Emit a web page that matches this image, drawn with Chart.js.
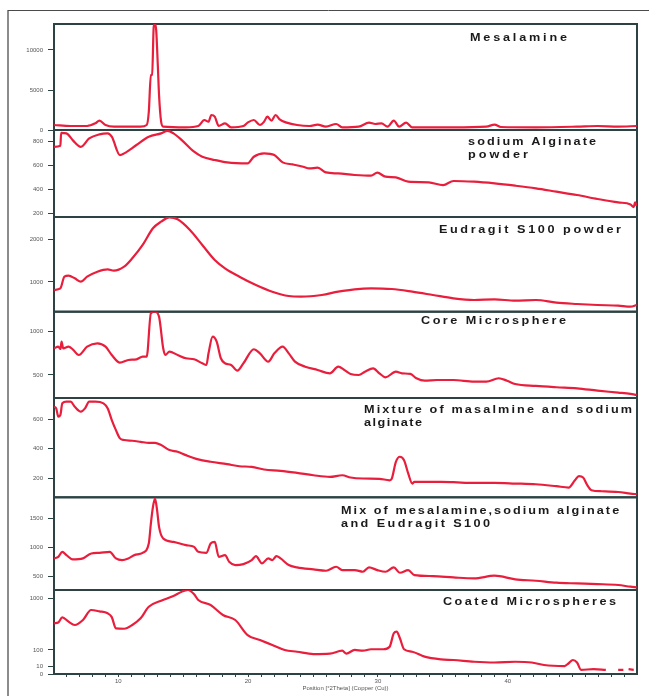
<!DOCTYPE html>
<html>
<head>
<meta charset="utf-8">
<title>XRD patterns</title>
<script src="https://cdn.jsdelivr.net/npm/chart.js@4.4.1/dist/chart.umd.min.js"></script>
<style>
  html, body { margin: 0; padding: 0; background: #fff; }
  #wrap { width: 649px; height: 696px; }
</style>
</head>
<body>
<div id="wrap"><canvas id="xrd" width="649" height="696"></canvas></div>
<script>
// ---- data: [2theta, counts] ----
const mesalamine = [
  [5.06,625],[6.33,500],[7.6,500],[8.23,830],[8.55,1170],[9.02,625],[9.66,420],[11.72,420],[12.19,625],
  [12.35,2250],[12.51,6875],[12.61,6900],[12.73,12900],[12.83,13250],[12.92,12500],[13.05,7900],[13.14,4375],
  [13.3,1040],[13.46,420],[15.21,330],[16.16,500],[16.63,1250],[16.95,1040],[17.17,1875],[17.43,1670],
  [17.74,500],[18.22,830],[18.69,330],[19.64,500],[19.96,920],[20.44,1250],[20.91,625],[21.23,1040],
  [21.48,1670],[21.8,1170],[22.12,1875],[22.43,1330],[22.97,920],[23.77,625],[24.72,500],[25.35,670],
  [25.99,420],[26.78,750],[27.25,330],[28.52,420],[29.31,920],[29.79,750],[30.27,830],[30.74,420],
  [31.22,1170],[31.63,420],[32.17,920],[32.64,330],[35.81,330],[38.35,420],[38.98,670],[39.46,375],
  [42.16,330],[45.33,420],[46.91,500],[48.5,420],[49.92,500]
];
const sodiumAlginate = [
  [5.06,752],[5.54,760],[5.6,868],[6.01,864],[6.49,808],[7.12,752],[7.76,822],[8.55,856],[9.18,864],
  [9.5,836],[10.13,683],[10.45,697],[11.4,767],[12.35,836],[13.3,864],[13.78,885],[14.25,864],[14.89,808],
  [15.84,711],[16.47,669],[17.43,642],[18.38,622],[19.96,614],[20.44,669],[21.23,697],[22.02,683],
  [22.66,622],[23.45,605],[24.24,586],[24.72,572],[25.35,578],[25.99,539],[26.94,530],[28.21,517],
  [29.47,511],[29.95,536],[30.58,503],[31.38,497],[32.33,461],[33.91,456],[35.02,433],[35.82,467],
  [37.4,461],[38.98,447],[40.57,428],[42.16,406],[43.74,378],[45.33,350],[46.91,317],[48.5,289],
  [49.45,272],[49.7,250],[49.8,290],[49.92,260]
];
const eudragit = [
  [5.06,814],[5.54,850],[5.85,1124],[6.17,1147],[6.65,1085],[7.12,1008],[7.6,1124],[8.39,1240],[9.18,1295],
  [9.66,1264],[10.45,1357],[11.08,1551],[11.88,1861],[12.67,2249],[13.3,2403],[13.94,2504],[14.57,2458],
  [15.52,2210],[16.47,1861],[17.43,1512],[18.22,1318],[19.33,1124],[20.6,930],[21.86,775],[23.13,674],
  [24.08,659],[25.67,698],[26.94,775],[28.2,830],[29.47,853],[31.06,837],[32.64,775],[34.23,698],
  [35.81,620],[37.4,581],[38.98,597],[40.57,566],[42.16,581],[43.74,519],[45.33,488],[46.91,465],
  [48.5,450],[49.45,426],[49.92,465]
];
const coreMicrosphere = [
  [5.06,808],[5.38,827],[5.55,800],[5.63,885],[5.76,808],[6.17,827],[6.49,797],[6.96,731],[7.6,827],
  [8.39,866],[9.02,827],[9.5,731],[10.13,642],[10.77,673],[11.4,681],[11.88,712],[12.19,712],[12.51,1212],
  [12.83,1231],[13.14,1174],[13.46,808],[13.62,731],[13.94,769],[14.57,731],[15.21,693],[15.84,681],
  [16.47,635],[16.79,616],[16.95,750],[17.27,943],[17.58,885],[17.9,693],[18.22,635],[18.69,616],
  [19.17,550],[19.64,635],[20.44,797],[20.91,750],[21.55,654],[22.02,750],[22.66,827],[23.13,750],
  [23.61,654],[24.4,596],[25.35,558],[26.3,519],[26.94,596],[27.41,558],[27.89,512],[28.52,500],
  [29.0,538],[29.63,577],[30.11,519],[30.58,473],[31.38,538],[31.85,519],[32.49,512],[32.96,462],
  [33.6,434],[34.55,442],[35.81,442],[37.4,423],[38.35,423],[39.3,462],[39.94,434],[40.57,396],
  [42.16,373],[43.74,358],[45.33,346],[46.91,319],[48.5,296],[49.45,281],[49.92,269]
];
const mixtureMesSa = [
  [5.06,683],[5.22,672],[5.38,616],[5.54,627],[5.69,706],[6.01,717],[6.33,717],[6.65,683],[7.12,650],
  [7.44,672],[7.76,717],[8.23,717],[8.86,706],[9.18,672],[9.5,593],[9.82,525],[10.13,469],[10.45,458],
  [11.08,453],[11.72,446],[12.35,439],[12.83,439],[13.3,424],[13.94,390],[14.57,379],[15.21,356],
  [16.16,327],[17.11,311],[18.38,295],[19.33,281],[20.28,277],[21.23,259],[22.5,250],[23.77,236],
  [25.03,220],[26.3,209],[27.25,220],[27.89,205],[28.84,198],[30.11,196],[30.9,186],[31.06,196],
  [31.38,311],[31.69,345],[32.01,322],[32.33,232],[32.64,164],[32.8,175],[33.91,175],[34.86,175],
  [35.81,173],[37.4,168],[38.98,168],[40.57,164],[42.16,159],[43.74,146],[44.69,137],[45.17,186],
  [45.48,214],[45.8,205],[46.12,153],[46.44,119],[47.23,112],[48.5,107],[49.45,96],[49.92,92]
];
const mixMesSaEud = [
  [5.06,805],[5.38,833],[5.69,919],[6.01,862],[6.49,788],[7.28,805],[7.92,891],[8.55,902],[9.34,919],
  [9.82,805],[10.29,776],[10.77,805],[11.24,862],[11.88,902],[12.35,1063],[12.51,1408],[12.67,1695],
  [12.83,1839],[12.99,1638],[13.14,1350],[13.46,1150],[14.25,1091],[15.21,1034],[15.84,1005],[16.16,919],
  [16.79,902],[17.11,1063],[17.43,1091],[17.74,833],[18.22,862],[18.54,747],[19.01,690],[19.64,707],
  [20.28,776],[20.6,845],[21.07,719],[21.55,805],[21.86,776],[22.18,845],[22.5,805],[23.13,690],
  [23.77,650],[25.03,615],[26.0,592],[26.78,661],[27.25,603],[28.21,603],[28.84,575],[29.31,650],
  [29.95,603],[30.58,575],[31.22,650],[31.69,557],[32.33,603],[32.8,517],[34.23,500],[35.81,477],
  [37.4,460],[38.98,506],[40.57,443],[42.16,419],[43.74,385],[45.33,373],[46.91,362],[48.5,345],
  [49.45,316],[49.92,305]
];
const coatedMicrospheres = [
  [5.06,445],[5.38,460],[5.69,556],[6.17,474],[6.65,416],[7.28,505],[7.91,709],[8.55,680],[9.18,638],
  [9.5,560],[9.82,361],[10.45,355],[11.08,416],[11.72,537],[12.35,784],[13.3,931],[14.25,1054],[14.89,1174],
  [15.37,1222],[15.84,1100],[16.16,948],[17.11,824],[18.06,603],[19.01,505],[19.96,263],[20.91,200],
  [21.86,146],[22.82,100],[23.77,86],[25.03,69],[26.3,72],[27.25,94],[27.57,72],[28.21,100],[28.84,94],
  [29.47,106],[30.42,106],[30.9,129],[31.22,287],[31.44,310],[31.69,221],[32.01,106],[32.64,86],
  [33.59,52],[34.86,37],[35.81,34],[37.4,26],[38.98,23],[40.57,26],[41.84,23],[42.79,14],[44.37,11],
  [44.69,20],[45.01,34],[45.33,23],[45.64,3],[46.6,4],[47.55,3],[47.9,null],[48.5,3],[48.9,3],
  [49.1,null],[49.3,4],[49.7,3]
];

const sampleNames = [
  ['Mesalamine'],
  ['sodium Alginate', 'powder'],
  ['Eudragit S100 powder'],
  ['Core Microsphere'],
  ['Mixture of masalmine and sodium', 'alginate'],
  ['Mix of mesalamine,sodium alginate', 'and Eudragit S100'],
  ['Coated Microspheres']
];
const yRanges = [[0,13250],[167,892],[309,2512],[234,1231],[71,742],[259,1862],[0,1222]];
const yTickValues = [[0,5000,10000],[200,400,600,800],[1000,2000],[500,1000],[200,400,600],[500,1000,1500],[0,10,100,1000]];
const twoThetaRange = [5.05, 49.95];
const xMajorTicks = [10, 20, 30, 40];
const xTitle = 'Position [°2Theta] (Copper (Cu))';

// ---- layout / style ----
const series = [mesalamine, sodiumAlginate, eudragit, coreMicrosphere, mixtureMesSa, mixMesSaEud, coatedMicrospheres];
const panelHeights = [106, 87, 94.7, 86.3, 99.3, 92.7, 84];
const labelLayout = [
  {x: 470, y: [38], w: [97]},
  {x: 468, y: [142, 155], w: [128, 60]},
  {x: 439, y: [230], w: [182]},
  {x: 421, y: [321], w: [145]},
  {x: 364, y: [410, 423], w: [268, 58]},
  {x: 341, y: [511, 524], w: [278, 149]},
  {x: 443, y: [602], w: [173]}
];
const lineRed = '#e81e3c';
const frameColor = '#2d4343';

Chart.defaults.font.family = '"Liberation Sans", Arial, sans-serif';

// square-root intensity axis (used by the bottom pattern)
class SqrtScale extends Chart.LinearScale {
  getPixelForValue(value) {
    const lo = Math.sqrt(Math.max(this.min, 0));
    const hi = Math.sqrt(this.max);
    return this.getPixelForDecimal((Math.sqrt(Math.max(value, 0)) - lo) / (hi - lo));
  }
  getValueForPixel(pixel) {
    const lo = Math.sqrt(Math.max(this.min, 0));
    const hi = Math.sqrt(this.max);
    const s = lo + this.getDecimalForPixel(pixel) * (hi - lo);
    return s * s;
  }
}
SqrtScale.id = 'sqrt';
SqrtScale.defaults = Chart.LinearScale.defaults;
Chart.register(SqrtScale);

const scales = {
  x: {
    type: 'linear',
    position: 'bottom',
    min: twoThetaRange[0],
    max: twoThetaRange[1],
    afterFit: s => { s.height = 22; },
    afterBuildTicks: s => {
      const t = [];
      for (let v = Math.ceil(twoThetaRange[0]); v <= twoThetaRange[1]; v++) t.push({value: v});
      s.ticks = t;
    },
    grid: {drawOnChartArea: false, tickLength: 3, color: frameColor, lineWidth: 1},
    border: {display: false},
    ticks: {
      autoSkip: false, maxRotation: 0, padding: 1,
      font: {size: 6}, color: '#555',
      callback: v => xMajorTicks.includes(v) ? String(v) : ''
    },
    title: {display: true, text: xTitle, font: {size: 6}, color: '#555', padding: {top: 0, bottom: 4}}
  }
};

series.forEach((s, i) => {
  scales['y' + i] = {
    type: i === 6 ? 'sqrt' : 'linear',
    position: 'left',
    stack: 'xrd',
    stackWeight: panelHeights[i],
    weight: series.length - i,
    min: yRanges[i][0],
    max: yRanges[i][1],
    afterFit: sc => { sc.width = 54; },
    afterBuildTicks: sc => { sc.ticks = yTickValues[i].map(v => ({value: v})); },
    grid: {drawOnChartArea: false, drawTicks: true, tickLength: 6, color: frameColor, lineWidth: 1},
    border: {display: false},
    ticks: {autoSkip: false, padding: 5, font: {size: 6}, color: '#555', callback: v => String(v)}
  };
});

const panelDecor = {
  id: 'panelDecor',
  beforeDraw(chart) {
    const ctx = chart.ctx;
    ctx.save();
    ctx.fillStyle = '#fff';
    ctx.fillRect(0, 0, chart.width, chart.height);
    ctx.strokeStyle = '#8c8c8c';
    ctx.lineWidth = 2;
    ctx.beginPath();
    ctx.moveTo(8, 696); ctx.lineTo(8, 10); ctx.stroke();
    ctx.strokeStyle = '#4a4a4a';
    ctx.lineWidth = 1;
    ctx.beginPath();
    ctx.moveTo(8, 10.5); ctx.lineTo(649, 10.5); ctx.stroke();
    ctx.restore();
  },
  beforeDatasetsDraw(chart) {
    const ctx = chart.ctx, a = chart.chartArea;
    ctx.save();
    ctx.strokeStyle = frameColor;
    ctx.lineWidth = 2;
    series.forEach((s, i) => {
      const sc = chart.scales['y' + i];
      ctx.strokeRect(a.left, sc.top, a.right - a.left, sc.bottom - sc.top);
    });
    ctx.restore();
  },
  afterDraw(chart) {
    const ctx = chart.ctx;
    ctx.save();
    ctx.font = 'bold 11px "Liberation Sans", Arial, sans-serif';
    ctx.fillStyle = '#1a1a1a';
    ctx.textBaseline = 'middle';
    ctx.textAlign = 'left';
    sampleNames.forEach((lines, i) => {
      const L = labelLayout[i];
      lines.forEach((txt, j) => {
        ctx.letterSpacing = '0px';
        const w0 = ctx.measureText(txt).width;
        const sx = Math.min(1.15, L.w[j] / w0);
        const ls = Math.max(0, (L.w[j] / sx - w0) / Math.max(1, txt.length - 1));
        ctx.save();
        ctx.translate(L.x, L.y[j]);
        ctx.scale(sx, 1);
        ctx.letterSpacing = ls.toFixed(2) + 'px';
        ctx.fillText(txt, 0, 0);
        ctx.restore();
      });
    });
    ctx.restore();
  }
};

new Chart(document.getElementById('xrd').getContext('2d'), {
  type: 'line',
  data: {
    datasets: series.map((s, i) => ({
      label: sampleNames[i].join(' '),
      data: s.map(([x, y]) => ({x, y})),
      yAxisID: 'y' + i,
      borderColor: lineRed,
      borderWidth: 2.2,
      pointRadius: 0,
      fill: false,
      cubicInterpolationMode: 'monotone',
      spanGaps: false
    }))
  },
  options: {
    responsive: false,
    animation: false,
    layout: {padding: {top: 24, left: 0, right: 12, bottom: 0}},
    scales: scales,
    plugins: {legend: {display: false}, tooltip: {enabled: false}}
  },
  plugins: [panelDecor]
});
</script>
</body>
</html>
